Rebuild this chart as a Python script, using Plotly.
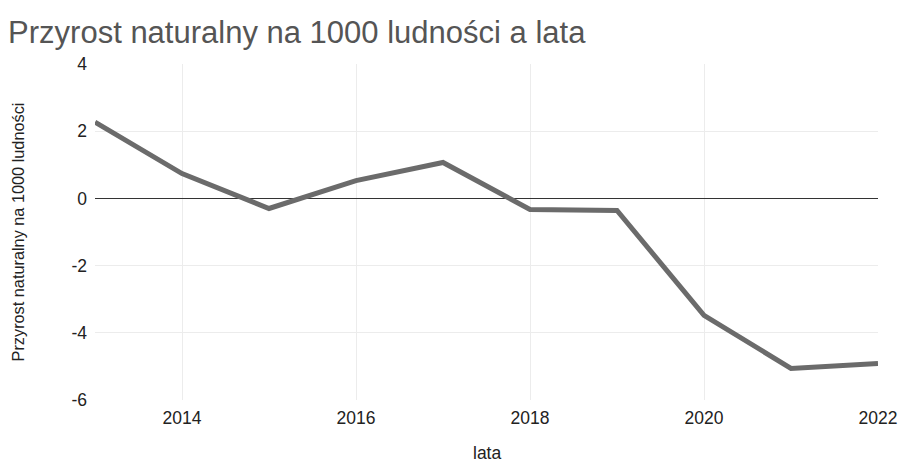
import plotly.graph_objects as go

years = [2013, 2014, 2015, 2016, 2017, 2018, 2019, 2020, 2021, 2022]
values = [2.27, 0.74, -0.3, 0.53, 1.07, -0.33, -0.36, -3.48, -5.06, -4.91]
y_ticks = [4, 2, 0, -2, -4, -6]
x_ticks = [2014, 2016, 2018, 2020, 2022]

FONT = "Liberation Sans, Arial, sans-serif"

fig = go.Figure(go.Scatter(
    x=years, y=values, mode="lines",
    line=dict(color="#6b6b6b", width=5),
    hoverinfo="x+y",
))

fig.update_layout(
    width=900, height=463,
    margin=dict(l=95, r=22, t=64, b=63, autoexpand=False),
    paper_bgcolor="white", plot_bgcolor="white",
    font=dict(family=FONT, color="#222"),
    showlegend=False,
    title=dict(text="Przyrost naturalny na 1000 ludności a lata",
               xref="container", x=0.009, xanchor="left",
               yref="container", y=0.931, yanchor="middle",
               pad=dict(l=0),
               font=dict(size=31, color="#555", family=FONT)),
    xaxis=dict(range=[2013, 2022], tickvals=x_ticks, ticktext=[str(v) for v in x_ticks],
               showgrid=True, gridcolor="#ececec", gridwidth=1, zeroline=False,
               showline=False, ticks="", ticklabelstandoff=5, automargin=False,
               ticklabeloverflow="allow",
               tickfont=dict(size=17.5, color="#222")),
    yaxis=dict(range=[-6, 4], tickvals=y_ticks, ticktext=[str(v) for v in y_ticks],
               showgrid=True, gridcolor="#ececec", gridwidth=1,
               zeroline=True, zerolinecolor="#333", zerolinewidth=1,
               showline=False, ticks="", ticklabelstandoff=7, automargin=False,
               tickfont=dict(size=17.5, color="#222"),
               title=dict(text="Przyrost naturalny na 1000 ludności",
                          font=dict(size=16.3, color="#222"), standoff=42)),
    annotations=[dict(text="lata", xref="paper", yref="paper", x=0.5, y=-0.158,
                      xanchor="center", yanchor="middle", showarrow=False,
                      font=dict(size=17.5, color="#222"))],
)

fig.write_html("out.html", config={"displayModeBar": False},
               post_script="document.body.style.margin='0';document.body.style.overflow='hidden';")
